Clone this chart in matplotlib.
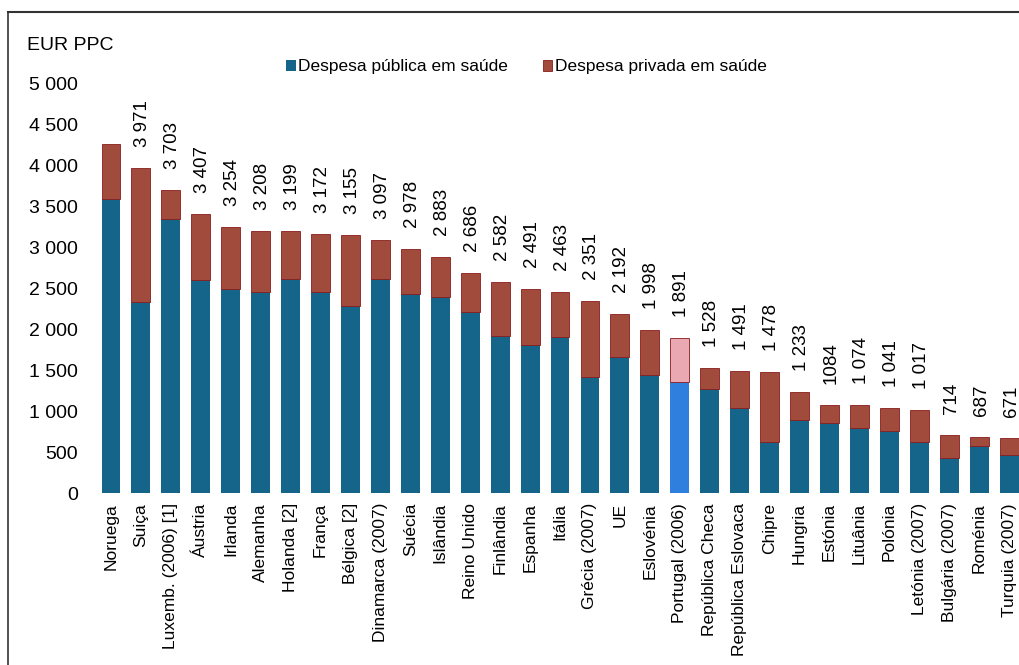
import matplotlib.pyplot as plt
from matplotlib.lines import Line2D
from matplotlib.patches import Patch

plt.rcParams['font.family'] = ['Liberation Sans', 'DejaVu Sans']

# dados (EUR PPC)
paises = ['Noruega', 'Suiça', 'Luxemb. (2006) [1]', 'Áustria', 'Irlanda', 'Alemanha',
          'Holanda [2]', 'França', 'Bélgica [2]', 'Dinamarca (2007)', 'Suécia', 'Islândia',
          'Reino Unido', 'Finlândia', 'Espanha', 'Itália', 'Grécia (2007)', 'UE',
          'Eslovénia', 'Portugal (2006)', 'República Checa', 'República Eslovaca', 'Chipre',
          'Hungria', 'Estónia', 'Lituânia', 'Polónia', 'Letónia (2007)', 'Bulgária (2007)',
          'Roménia', 'Turquia (2007)']
total = [4270, 3971, 3703, 3407, 3254, 3208, 3199, 3172, 3155, 3097, 2978, 2883,
         2686, 2582, 2491, 2463, 2351, 2192, 1998, 1891, 1528, 1491, 1478, 1233,
         1084, 1074, 1041, 1017, 714, 687, 671]
publica = [3600, 2340, 3350, 2610, 2500, 2455, 2615, 2460, 2290, 2615, 2435, 2400,
           2215, 1915, 1815, 1910, 1425, 1670, 1450, 1355, 1270, 1045, 630, 890,
           855, 795, 765, 630, 435, 580, 470]
rotulos = ['', '3 971', '3 703', '3 407', '3 254', '3 208', '3 199', '3 172', '3 155',
           '3 097', '2 978', '2 883', '2 686', '2 582', '2 491', '2 463', '2 351',
           '2 192', '1 998', '1 891', '1 528', '1 491', '1 478', '1 233', '1084',
           '1 074', '1 041', '1 017', '714', '687', '671']
privada = [t - p for t, p in zip(total, publica)]

cor_pub = '#15658A'
cor_priv = '#A04B3C'
destaque = 'Portugal (2006)'

fig = plt.figure(figsize=(10.19, 6.65), dpi=100)
ax = fig.add_axes([96 / 1019, 171.7 / 665, 923 / 1019, 409.4 / 665])

x = list(range(len(paises)))
cores_pub = ['#2F7FDF' if p == destaque else cor_pub for p in paises]
cores_priv = ['#E9A8B2' if p == destaque else cor_priv for p in paises]
ax.bar(x, publica, width=0.63, color=cores_pub, edgecolor='none')
ax.bar(x, privada, bottom=publica, width=0.63, color=cores_priv,
       edgecolor='#8A1C1C', linewidth=0.6)

# rótulos de total por cima das barras
for xi, t, r in zip(x, total, rotulos):
    ax.annotate(r, (xi, t), xytext=(2, 21), textcoords='offset pixels',
                rotation=90, ha='center', va='bottom', fontsize=13.5)

ax.set_xlim(-0.5, 30.33)
ax.set_ylim(0, 5000)
ax.set_yticks(range(0, 5001, 500))
ax.set_yticklabels([f'{v:,}'.replace(',', ' ') for v in range(0, 5001, 500)])
ax.set_xticks(x)
ax.set_xticklabels(paises, rotation=90, ha='center', va='top')
ax.tick_params(axis='y', length=0, pad=13, labelsize=14)
ax.tick_params(axis='x', length=0, pad=7, labelsize=12.5)
for s in ax.spines.values():
    s.set_visible(False)

fig.text(27 / 1019, 1 - 45 / 665, 'EUR PPC', fontsize=14, va='center', ha='left')

handles = [Patch(facecolor=cor_pub, edgecolor='none'),
           Patch(facecolor=cor_priv, edgecolor='#8A1C1C', linewidth=0.6)]
fig.legend(handles, ['Despesa pública em saúde', 'Despesa privada em saúde'],
           loc='center left', bbox_to_anchor=(286 / 1019, 1 - 67 / 665), ncol=2,
           frameon=False, fontsize=12.5, handlelength=0.55, handleheight=0.55,
           handletextpad=0.15, columnspacing=2.0, borderpad=0, borderaxespad=0)

# moldura (topo e esquerda)
fig.add_artist(Line2D([8 / 1019, 1], [1 - 12 / 665, 1 - 12 / 665], color='#333333', lw=1.5))
fig.add_artist(Line2D([8 / 1019, 8 / 1019], [0, 1 - 12 / 665], color='#333333', lw=1.2))

fig.savefig('out.png', dpi=100)
